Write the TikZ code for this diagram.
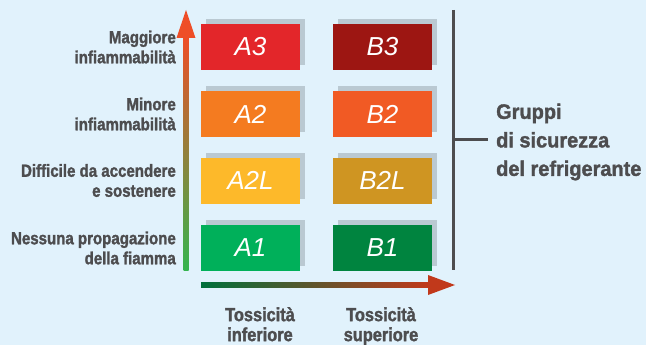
\documentclass[tikz,border=0pt]{standalone}
\usepackage{fontspec}
\usetikzlibrary{shadows}
\newfontfamily\labelfont[FakeStretch=0.86,FakeBold=1.6]{Liberation Sans Bold}
\newfontfamily\groupfont[FakeStretch=0.95,FakeBold=1.6]{Liberation Sans Bold}
\newfontfamily\boxfont{Liberation Sans Italic}
\definecolor{bgblue}{HTML}{E1F2FC}
\definecolor{labelgray}{HTML}{4D4D4F}
\definecolor{shadowgray}{HTML}{BAC9D2}
\definecolor{colA3}{HTML}{E3262A}
\definecolor{colB3}{HTML}{9D1612}
\definecolor{colA2}{HTML}{F47B20}
\definecolor{colB2}{HTML}{F15A24}
\definecolor{colA2L}{HTML}{FDB92A}
\definecolor{colB2L}{HTML}{CF9522}
\definecolor{colA1}{HTML}{00B05A}
\definecolor{colB1}{HTML}{00843F}
\definecolor{vgreen}{HTML}{35B44F}
\definecolor{vred}{HTML}{EE4E28}
\definecolor{hgreen}{HTML}{00703C}
\definecolor{hred}{HTML}{C1391B}
\begin{document}
\begin{tikzpicture}[x=1pt,y=-1pt]
	\def \rowthree{47}
	\def \rowtwo{114}
	\def \rowtwol{180.5}
	\def \rowone{248}
	\def \colA{250.5}
	\def \colB{382.5}
	\def \labelx{176}

	\tikzstyle{grp-box}=[minimum width=99pt,minimum height=46pt,inner sep=0pt,text=white,font=\boxfont\fontsize{26}{26}\selectfont,drop shadow={shadow xshift=5pt,shadow yshift=5pt,fill=shadowgray,opacity=1}]
	\tikzstyle{annot}=[anchor=east,align=right,inner sep=0pt,text=labelgray,font=\labelfont\fontsize{17.5}{20}\selectfont]
	\tikzstyle{axis-label}=[anchor=north,align=center,inner sep=0pt,text=labelgray,font=\labelfont\fontsize{19}{20}\selectfont]
	\tikzstyle{group-label}=[anchor=west,align=left,inner sep=0pt,text=labelgray,font=\groupfont\fontsize{21}{28.5}\selectfont]
	\tikzstyle{bracket}=[draw=labelgray,line width=3pt]

	\fill[bgblue] (0,0) rectangle (646,345);
	\useasboundingbox (0,0) rectangle (646,345);

	% flammability axis
	\shade[bottom color=vgreen,top color=vred] (183.5,270) rectangle (188.5,37);
	\fill[vred] (176.5,38) -- (186,10) -- (195.5,38) -- cycle;

	% toxicity axis
	\shade[left color=hgreen,right color=hred] (201,282.5) rectangle (429,287.5);
	\fill[hred] (428,275) -- (455,285) -- (428,295) -- cycle;

	% safety groups
	\node[grp-box,fill=colA3] 	(a3)	at (\colA,\rowthree)	{A3};
	\node[grp-box,fill=colB3] 	(b3)	at (\colB,\rowthree)	{B3};
	\node[grp-box,fill=colA2] 	(a2)	at (\colA,\rowtwo)	{A2};
	\node[grp-box,fill=colB2] 	(b2)	at (\colB,\rowtwo)	{B2};
	\node[grp-box,fill=colA2L] 	(a2l)	at (\colA,\rowtwol)	{A2L};
	\node[grp-box,fill=colB2L] 	(b2l)	at (\colB,\rowtwol)	{B2L};
	\node[grp-box,fill=colA1] 	(a1)	at (\colA,\rowone)	{A1};
	\node[grp-box,fill=colB1] 	(b1)	at (\colB,\rowone)	{B1};

	% labels
	\node[annot]	(fl3)	at (\labelx,\rowthree)	{Maggiore\\infiammabilità};
	\node[annot]	(fl2)	at (\labelx,\rowtwo)	{Minore\\infiammabilità};
	\node[annot]	(fl2l)	at (\labelx,\rowtwol)	{Difficile da accendere\\e sostenere};
	\node[annot]	(fl1)	at (\labelx,\rowone)	{Nessuna propagazione\\della fiamma};

	\node[axis-label]	(tox-low)	at (260,307)	{Tossicità\\inferiore};
	\node[axis-label]	(tox-high)	at (381,307)	{Tossicità\\superiore};

	\coordinate (br-top) at (453,10);
	\coordinate (br-bot) at (453,270);
	\coordinate (br-mid) at (453,139);
	\node[group-label]	(groups)	at (496,142)	{Gruppi\\di sicurezza\\del refrigerante};

	\draw[bracket] (br-top) -- (br-bot);
	\draw[bracket] (br-mid) -- ++(35,0);
\end{tikzpicture}
\end{document}
